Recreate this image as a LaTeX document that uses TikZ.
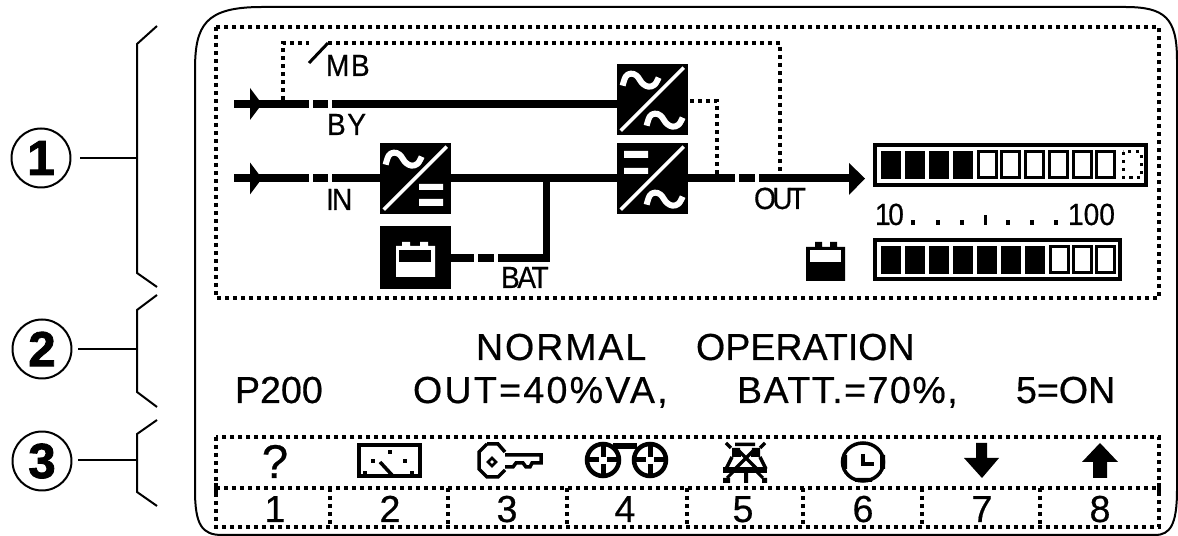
\documentclass[tikz,border=0pt]{standalone}
\usepackage{fontspec}
\newfontfamily\lcd[FakeBold=0.5]{Liberation Sans}
\newfontfamily\lcds[FakeStretch=0.92,FakeBold=0.5]{Liberation Sans}
\newfontfamily\numfont[FakeBold=1.8]{Liberation Sans Bold}
\newcommand\lcdbig[1]{\lcd\fontsize{21.4}{21.4}\selectfont\addfontfeature{LetterSpace=#1}}
\newcommand\lcdsmall[1]{\lcds\fontsize{17.4}{17.4}\selectfont\addfontfeature{LetterSpace=#1}}
\tikzset{
  hair/.style={line width=0.04cm,draw=black},
  dots/.style={line width=0.08cm,draw=black,dash pattern=on 0.08cm off 0.08cm},
  power/.style={line width=0.16cm,draw=black},
  blk/.style={fill=black,draw=none,inner sep=0pt,minimum width=1.42cm,minimum height=1.42cm},
  txt/.style={anchor=base west,inner sep=0pt,outer sep=0pt},
  num/.style={draw=black,line width=0.04cm,circle,inner sep=0pt,minimum size=1.18cm,font=\numfont\fontsize{28}{28}\selectfont},
  sinewave/.pic={\draw[white,line width=0.12cm,line join=round] plot[smooth,tension=0.6] coordinates {(6,22) (9,13) (14,10) (20,12) (26,20) (32,23) (38,21) (42,14)};},
  diag/.pic={\draw[white,line width=0.07cm] (4,67) -- (67,4);},
  cell/.style={draw=black,line width=0.06cm,fill=white}
}
\begin{document}
\begin{tikzpicture}[x=0.02cm,y=-0.02cm]
\useasboundingbox (0,0) rectangle (1178,536);
% callouts
\node[num] (n1) at (41,158) {1};
\node[num] (n2) at (42,349) {2};
\node[num] (n3) at (42,461) {3};
\draw[hair] (157,26) -- (137,44) -- (137,273) -- (157,287);
\draw[hair] (157,295) -- (137,310) -- (137,392) -- (157,407);
\draw[hair] (157,420) -- (137,434) -- (137,492) -- (157,506);
\coordinate (s1) at (137,158);\coordinate (s2) at (137,349);\coordinate (s3) at (137,460);
\draw[hair] (80,158) -- (s1);
\draw[hair] (78,349) -- (s2);
\draw[hair] (78,460) -- (s3);
% outer
\draw[hair] (195,70) .. controls (195,25) and (205,7) .. (262,7) -- (1125,7)
  .. controls (1165,7) and (1177,18) .. (1177,60) -- (1177,490)
  .. controls (1177,525) and (1170,535) .. (1155,535) -- (222,535)
  .. controls (202,535) and (195,525) .. (195,490) -- cycle;
% dotted frames
\draw[dots] (216,27) rectangle (1159,298);
\draw[dots] (216,437) rectangle (1159,527);
\draw[dots] (216,488) -- (1159,488);
\foreach \vx in {330,448,567,687,803,922,1040} \draw[dots] (\vx,488) -- (\vx,527);
\fill (214,483) rectangle (218,493);
\fill (1157,483) rectangle (1161,493);
% blocks
\node[blk] (byp) at (652.5,99.5) {};
\node[blk] (inv) at (652.5,178.5) {};
\node[blk] (rec) at (415.5,178.5) {};
\node[blk,minimum height=1.26cm] (bat) at (415.5,257.5) {};
\path (rec.north west) pic {sinewave} pic {diag};
\fill[white] (419,184) rectangle (443,190) (419,199) rectangle (443,206);
\path (byp.north west) pic {sinewave} pic {diag} +(24,40) pic {sinewave};
\path (inv.north west) pic {diag} +(24,40) pic {sinewave};
\fill[white] (624,151) rectangle (648,158) (624,168) rectangle (648,174);
% battery in block
\fill[white] (396,246) rectangle (435,277) (402,242) rectangle (410,247) (420,242) rectangle (428,247);
\fill[black] (399,250) rectangle (431,262);
% power lines
\coordinate (a1) at (234,104);\coordinate (a2) at (309,104);\coordinate (a3) at (313,104);\coordinate (a4) at (328,104);\coordinate (a5) at (332,104);
\draw[power] (a1) -- (a2) (a3) -- (a4) (a5) -- (byp.west |- a5);
\coordinate (c1) at (234,178.5);\coordinate (c2) at (309,178.5);\coordinate (c3) at (313,178.5);\coordinate (c4) at (328,178.5);\coordinate (c5) at (332,178.5);
\draw[power] (c1) -- (c2) (c3) -- (c4) (c5) -- (rec.west);
\draw[power] (rec.east) -- (inv.west);
\coordinate (o2) at (735,178.5);\coordinate (o3) at (739,178.5);\coordinate (o4) at (755,178.5);\coordinate (o5) at (759,178.5);\coordinate (o6) at (850,178.5);
\draw[power] (inv.east) -- (o2) (o3) -- (o4) (o5) -- (o6);
\coordinate (j) at (546,178.5);\coordinate (k) at (546,258);
\coordinate (d1) at (474,258);\coordinate (d2) at (478,258);\coordinate (d3) at (494,258);\coordinate (d4) at (498,258);
\draw[line width=0.14cm] (j) -- (546,262);
\draw[power] (bat.east |- d1) -- (d1) (d2) -- (d3) (d4) -- (549.5,258);
% arrowheads
\fill (250,88) -- (262,104) -- (250,120) -- cycle;
\fill (250,162.5) -- (262,178.5) -- (250,194.5) -- cycle;
\fill (849,163) -- (865,178.5) -- (849,195) -- cycle;
% signal dotted
\coordinate (m1) at (283,100);\coordinate (m2) at (283,43);\coordinate (m3) at (309,43);\coordinate (m4) at (328,43);\coordinate (m5) at (780,43);\coordinate (m6) at (780,176);
\draw[dots] (m1) -- (m2) -- (m3);
\draw[line width=0.06cm] (309,63) -- (m4);
\draw[dots] (m4) -- (m5) -- (m6);
\coordinate (p1) at (690,101);\coordinate (p2) at (717,101);\coordinate (p3) at (717,176);
\draw[dots] (p1) -- (p2) -- (p3);
% labels
\node[txt,font=\lcdsmall{5}] (mb) at (326,76) {MB};
\node[txt,font=\lcdsmall{5}] (by) at (327,135) {BY};
\node[txt,font=\lcdsmall{-6}] (in) at (326,210) {IN};
\node[txt,font=\lcdsmall{-8}] (bt) at (501,288) {BAT};
\node[txt,font=\lcdsmall{-12}] (ou) at (754,209) {OUT};
% bar 1
\draw[line width=0.09cm] (875,145) rectangle (1146,185);
\foreach \sx in {881,905,929,953} \fill (\sx,151) rectangle (\sx+20,179);
\foreach \sx in {977,1000,1024,1048,1072,1095} \draw[cell] (\sx+1,152) rectangle (\sx+19,178);
\draw[line width=0.06cm,dash pattern=on 0.07cm off 0.09cm] (1123,152) rectangle (1141,178);
% scale
\node[txt,font=\lcdsmall{-8}] (s10) at (875,225) {10};
\node[txt,font=\lcdsmall{0}] (s100) at (1068,225) {100};
\foreach \dx in {913,938,962,1008,1032,1056} \fill (\dx-2,220) rectangle (\dx+2,225);
\fill (984,215) rectangle (987,225);
% bar 2
\draw[line width=0.09cm] (875,240) rectangle (1120,279);
\foreach \sx in {881,905,929,953,977,1001,1025} \fill (\sx,246) rectangle (\sx+20,274);
\foreach \sx in {1049,1072,1095} \draw[cell] (\sx+1,247) rectangle (\sx+19,273);
% small battery
\fill (806,247) rectangle (845,281) (815,242) rectangle (822,248) (830,242) rectangle (837,248);
\fill[white] (810,250) rectangle (841,262);
% message
\node[txt,font=\lcdbig{5}] (t1) at (476,360) {NORMAL};
\node[txt,font=\lcdbig{0}] (t2) at (696,360) {OPERATION};
\node[txt,font=\lcdbig{0}] (t3) at (235,403) {P200};
\node[txt,font=\lcdbig{6}] (t4) at (413,403) {OUT=40\%VA,};
\node[txt,font=\lcdbig{4}] (t5) at (737,403) {BATT.=70\%,};
\node[txt,font=\lcdbig{0}] (t6) at (1016,403) {5=ON};
% soft-key digits
\foreach \dx/\dn in {275/1,390/2,507/3,625/4,743/5,863/6,982/7,1100/8}
  \node[anchor=base,inner sep=0pt,font=\lcdbig{0}] (k\dn) at (\dx,522) {\dn};
% icons
\node[anchor=base,inner sep=0pt,font=\lcd\fontsize{27}{27}\selectfont] (q) at (275,478) {?};
\draw[line width=0.07cm] (359,445) rectangle (420,476);
\foreach \ix/\iy in {390/452,373/461,405/461,365/473,412/473} \fill (\ix-2,\iy-2) rectangle (\ix+2,\iy+2);
\draw[line width=0.07cm] (380,462) -- (392,475);
% key
\draw[line width=0.07cm] (487,444) -- (498,444) -- (505,452) (505,470) -- (498,477) -- (487,477) -- (479,469) -- (479,452) -- (487,444);
\draw[line width=0.07cm] (505,455) -- (541,455) -- (541,463) -- (532,463) -- (530,467) -- (526,467) -- (523,463) -- (516,463) -- (513,467) -- (505,467);
\draw[line width=0.05cm] (492,458) -- (496,462) -- (492,466) -- (488,462) -- cycle;
% wheels
\foreach \wx in {603,650} {
  \draw[line width=0.09cm] (\wx,460) circle[radius=16];
  \draw[line width=0.1cm] (\wx,444) -- (\wx,457) (\wx,464) -- (\wx,477) (\wx-17,460) -- (\wx-4,460) (\wx+4,460) -- (\wx+17,460);
}
\fill (613,443) rectangle (637,449);
% bell-like icon
\fill (732,448) -- (740,448) -- (741,457) -- (732,457) -- cycle (752,448) -- (760,448) -- (760,457) -- (751,457) -- cycle;
\fill (723,467) rectangle (767,473);
\draw[line width=0.07cm] (735,444.5) -- (755,444.5) (726,443) -- (731,448) (765,443) -- (760,448);
\draw[line width=0.07cm] (738,450) -- (758,470) (754,450) -- (734,470) (732,457) -- (726,469) (760,457) -- (766,469);
\fill (723,478) rectangle (730,483) (744,472) rectangle (748,483) (762,478) rectangle (767,483);
\draw[line width=0.06cm] (733,472) -- (727,478) (757,472) -- (763,478);
% clock
\draw[line width=0.07cm] (863,462) ellipse[x radius=20.5,y radius=19];
\fill (842,455) rectangle (847,469) (880,455) rectangle (885,469) (855,478) rectangle (872,482);
\draw[line width=0.08cm] (863,454) -- (863,464) -- (874,464);
% arrows
\fill (976,443) -- (987,443) -- (987,458) -- (999,458) -- (982,478) -- (964,458) -- (976,458) -- cycle;
\fill (1100,443) -- (1118,462) -- (1107,462) -- (1107,478) -- (1093,478) -- (1093,462) -- (1082,462) -- cycle;
\end{tikzpicture}
\end{document}
